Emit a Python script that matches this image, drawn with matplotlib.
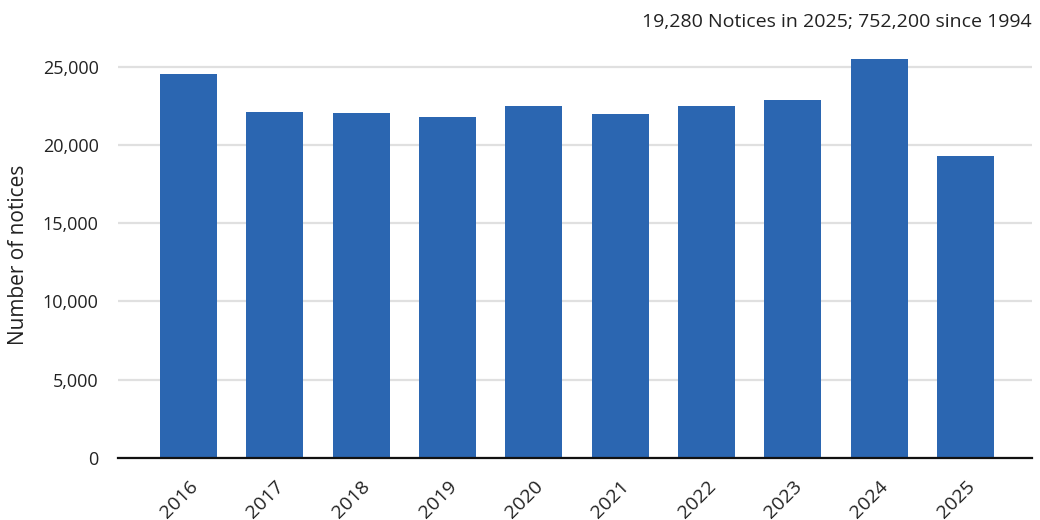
import matplotlib.pyplot as plt
import matplotlib.transforms as mtransforms
from matplotlib.ticker import FuncFormatter

years = ['2016', '2017', '2018', '2019', '2020', '2021', '2022', '2023', '2024', '2025']
notices = [24550, 22120, 22020, 21800, 22500, 22000, 22500, 22880, 25510, 19280]

plt.rcParams['font.family'] = ['Open Sans', 'DejaVu Sans']

fig = plt.figure(figsize=(10.4, 5.2), dpi=100)
ax = fig.add_axes([118 / 1040, 1 - 458 / 520, (1032 - 118) / 1040, (458 - 51) / 520])

x = range(len(years))
ax.bar(x, notices, width=0.66, color='#2b66b1', zorder=3)

ax.set_xlim(-0.817, 9.77)
ax.set_ylim(0, 26000)
ax.set_yticks([0, 5000, 10000, 15000, 20000, 25000])
ax.yaxis.set_major_formatter(FuncFormatter(lambda v, p: f'{int(v):,}'))
ax.set_xticks(list(x))
ax.set_xticklabels(years, rotation=45, ha='right', rotation_mode='anchor', fontsize=14)

# nudge the rotated year labels to the right, like the original
shift = mtransforms.ScaledTranslation(18 / 100, -3 / 100, fig.dpi_scale_trans)
for lab in ax.get_xticklabels():
    lab.set_transform(lab.get_transform() + shift)

ax.grid(axis='y', color='#e0e0e0', linewidth=1.6, zorder=0)
for s in ['top', 'right', 'left']:
    ax.spines[s].set_visible(False)
ax.spines['bottom'].set_color('#111111')
ax.spines['bottom'].set_linewidth(1.6)
ax.spines['bottom'].set_zorder(4)
ax.tick_params(axis='both', length=0, colors='#222222')
ax.tick_params(axis='y', pad=14, labelsize=13)
ax.tick_params(axis='x', pad=14)

ax.set_ylabel('Number of notices', fontsize=15, color='#222222', labelpad=10)

fig.text(1032 / 1040, 1 - 22 / 520, '19,280 Notices in 2025; 752,200 since 1994',
         ha='right', va='center', fontsize=14, color='#222222')

fig.savefig('out.png', dpi=100)
